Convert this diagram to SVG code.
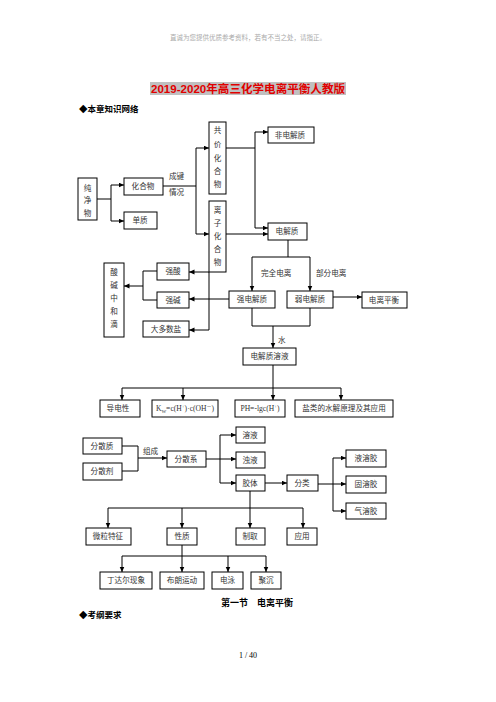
<svg xmlns="http://www.w3.org/2000/svg" width="496" height="702" viewBox="0 0 496 702">
<defs>
<marker id="ah" markerUnits="userSpaceOnUse" markerWidth="6" markerHeight="6" refX="5.5" refY="2.5" orient="auto"><path d="M0,0 L5.5,2.5 L0,5 z" fill="#000"/></marker>
<style>
.b{fill:#fff;stroke:#000;stroke-width:1}
.t{font-family:"Liberation Serif","Noto Sans CJK SC",serif;font-size:7.6px;fill:#333;text-anchor:middle}
.l{font-family:"Liberation Serif","Noto Sans CJK SC",serif;font-size:7.6px;fill:#333}
.c path{fill:none;stroke:#000;stroke-width:1}
.a{marker-end:url(#ah)}
.h{font-family:"Noto Sans CJK SC",sans-serif;font-weight:bold;fill:#000}
</style>
</defs>
<rect width="496" height="702" fill="#fff"/>
<text x="248" y="40" font-family="Liberation Serif,Noto Sans CJK SC,serif" font-size="6.5" fill="#aaa" text-anchor="middle">直诚为您提供优质参考资料，若有不当之处，请指正。</text>
<rect x="150" y="82" width="196" height="13" fill="#c0c0c0"/>
<text x="151" y="93" font-family="Liberation Sans,Noto Sans CJK SC,sans-serif" font-weight="bold" font-size="11.5" fill="#e00000" textLength="194" lengthAdjust="spacingAndGlyphs">2019-2020年高三化学电离平衡人教版</text>
<text class="h" x="79" y="112" font-size="8.5">◆本章知识网络</text>

<g id="connectors" class="c">
<path d="M97,199 H111 M111,185 V221"/>
<path class="a" d="M111,185 H124"/>
<path class="a" d="M111,221 H124"/>
<path d="M163,186 H196 M196,148 V234"/>
<path class="a" d="M196,148 H209"/>
<path class="a" d="M196,234 H209"/>
<path d="M226,148 H255 M255,132 V228"/>
<path class="a" d="M255,132 H268"/>
<path class="a" d="M255,228 H268"/>
<path class="a" d="M226,234 H268"/>
<path d="M288,240 V257 M252,257 H310"/>
<path class="a" d="M252,257 V291"/>
<path class="a" d="M310,257 V291"/>
<path class="a" d="M333,297 H362"/>
<path class="a" d="M229,299 H189"/>
<path d="M209,272 V330"/>
<path class="a" d="M209,272 H189"/>
<path class="a" d="M209,330 H189"/>
<path d="M157,271 H143 V300 H157"/>
<path class="a" d="M143,286 H124"/>
<path d="M252,308 V326 H310 V308"/>
<path class="a" d="M273,326 V348"/>
<path d="M273,365 V388 M122,388 H341"/>
<path class="a" d="M122,388 V400"/>
<path class="a" d="M183,388 V400"/>
<path class="a" d="M273,388 V400"/>
<path class="a" d="M341,388 V400"/>
<path d="M122,446 H138 V471 H122"/>
<path class="a" d="M138,458 H167"/>
<path class="a" d="M206,459 H236"/>
<path d="M220,435 V483"/>
<path class="a" d="M220,435 H236"/>
<path class="a" d="M220,483 H236"/>
<path class="a" d="M265,483 H287"/>
<path class="a" d="M318,484 H346"/>
<path d="M333,458 V511"/>
<path class="a" d="M333,458 H346"/>
<path class="a" d="M333,511 H346"/>
<path class="a" d="M250,491 V528"/>
<path d="M108,508 H303"/>
<path class="a" d="M108,508 V528"/>
<path class="a" d="M182,508 V528"/>
<path class="a" d="M303,508 V528"/>
<path d="M182,545 V556 M122,556 H266"/>
<path class="a" d="M122,556 V572"/>
<path class="a" d="M182,556 V572"/>
<path class="a" d="M228,556 V572"/>
<path class="a" d="M266,556 V572"/>
</g>
<g id="labels">
<text class="l" x="169" y="179">成键</text>
<text class="l" x="169" y="195">情况</text>
<text class="l" x="261" y="276">完全电离</text>
<text class="l" x="316" y="276">部分电离</text>
<text class="l" x="278" y="343">水</text>
<text class="l" x="143" y="454">组成</text>
</g>

<g id="n-chunjingwu"><rect class="b" x="78" y="178" width="19" height="42"/><text class="t" x="87.5" y="191">纯</text><text class="t" x="87.5" y="203">净</text><text class="t" x="87.5" y="216">物</text></g>
<g id="n-huahewu"><rect class="b" x="124" y="178" width="39" height="17"/><text class="t" x="143" y="189">化合物</text></g>
<g id="n-danzhi"><rect class="b" x="124" y="212" width="33" height="17"/><text class="t" x="140" y="223">单质</text></g>
<g id="n-gongjia"><rect class="b" x="209" y="122" width="17" height="72"/><text class="t" x="217.5" y="133">共</text><text class="t" x="217.5" y="147">价</text><text class="t" x="217.5" y="161">化</text><text class="t" x="217.5" y="174">合</text><text class="t" x="217.5" y="187">物</text></g>
<g id="n-lizi"><rect class="b" x="209" y="201" width="17" height="71"/><text class="t" x="217.5" y="213">离</text><text class="t" x="217.5" y="226">子</text><text class="t" x="217.5" y="239">化</text><text class="t" x="217.5" y="252">合</text><text class="t" x="217.5" y="265">物</text></g>
<g id="n-feidianjiezhi"><rect class="b" x="268" y="127" width="46" height="16"/><text class="t" x="290" y="138">非电解质</text></g>
<g id="n-dianjiezhi"><rect class="b" x="268" y="223" width="39" height="17"/><text class="t" x="287" y="234">电解质</text></g>
<g id="n-qiangdian"><rect class="b" x="229" y="291" width="46" height="17"/><text class="t" x="252" y="302">强电解质</text></g>
<g id="n-ruodian"><rect class="b" x="287" y="291" width="46" height="17"/><text class="t" x="310" y="302">弱电解质</text></g>
<g id="n-dianlipingheng"><rect class="b" x="362" y="292" width="45" height="16"/><text class="t" x="384" y="303">电离平衡</text></g>
<g id="n-qiangsuan"><rect class="b" x="157" y="263" width="32" height="17"/><text class="t" x="173" y="274">强酸</text></g>
<g id="n-qiangjian"><rect class="b" x="157" y="292" width="32" height="16"/><text class="t" x="173" y="303">强碱</text></g>
<g id="n-dayan"><rect class="b" x="143" y="321" width="46" height="16"/><text class="t" x="166" y="332">大多数盐</text></g>
<g id="n-zhonghe"><rect class="b" x="104" y="263" width="20" height="74"/><text class="t" x="114" y="275">酸</text><text class="t" x="114" y="288">碱</text><text class="t" x="114" y="301">中</text><text class="t" x="114" y="314">和</text><text class="t" x="114" y="327">滴</text></g>
<g id="n-rongye"><rect class="b" x="243" y="348" width="53" height="17"/><text class="t" x="269.5" y="359">电解质溶液</text></g>
<g id="n-daodian"><rect class="b" x="100" y="400" width="40" height="17"/><text class="t" x="118" y="411">导电性</text></g>
<g id="n-kw"><rect class="b" x="152" y="400" width="66" height="17"/><text class="t" x="185" y="411" font-size="7" fill="#000">K<tspan font-size="5" dy="1.5">W</tspan><tspan dy="-1.5">=c(H</tspan><tspan font-size="5" dy="-3">+</tspan><tspan dy="3">)·c(OH</tspan><tspan font-size="5" dy="-3">－</tspan><tspan dy="3">)</tspan></text></g>
<g id="n-ph"><rect class="b" x="235" y="400" width="50" height="17"/><text class="t" x="260" y="411" font-size="7" fill="#000">PH=-lgc(H<tspan font-size="5" dy="-3">+</tspan><tspan dy="3">)</tspan></text></g>
<g id="n-shuijie"><rect class="b" x="295" y="400" width="98" height="17"/><text class="t" x="344" y="411">盐类的水解原理及其应用</text></g>
<g id="n-fensanzhi"><rect class="b" x="83" y="438" width="39" height="16"/><text class="t" x="102" y="449">分散质</text></g>
<g id="n-fensanji"><rect class="b" x="83" y="463" width="39" height="17"/><text class="t" x="102" y="474">分散剂</text></g>
<g id="n-fensanxi"><rect class="b" x="167" y="451" width="39" height="16"/><text class="t" x="186" y="462">分散系</text></g>
<g id="n-rongye2"><rect class="b" x="236" y="427" width="29" height="16"/><text class="t" x="250" y="438">溶液</text></g>
<g id="n-zhuoye"><rect class="b" x="236" y="452" width="29" height="16"/><text class="t" x="250" y="463">浊液</text></g>
<g id="n-jiaoti"><rect class="b" x="236" y="475" width="29" height="16"/><text class="t" x="250" y="486">胶体</text></g>
<g id="n-fenlei"><rect class="b" x="287" y="475" width="31" height="16"/><text class="t" x="302" y="486">分类</text></g>
<g id="n-yerongjiao"><rect class="b" x="346" y="450" width="40" height="17"/><text class="t" x="366" y="461">液溶胶</text></g>
<g id="n-gurongjiao"><rect class="b" x="346" y="476" width="40" height="17"/><text class="t" x="366" y="487">固溶胶</text></g>
<g id="n-qirongjiao"><rect class="b" x="346" y="503" width="40" height="16"/><text class="t" x="366" y="514">气溶胶</text></g>
<g id="n-weili"><rect class="b" x="86" y="528" width="45" height="17"/><text class="t" x="108" y="539">微粒特征</text></g>
<g id="n-xingzhi"><rect class="b" x="167" y="528" width="30" height="17"/><text class="t" x="182" y="539">性质</text></g>
<g id="n-zhiqu"><rect class="b" x="236" y="528" width="29" height="17"/><text class="t" x="250" y="539">制取</text></g>
<g id="n-yingyong"><rect class="b" x="287" y="528" width="30" height="17"/><text class="t" x="302" y="539">应用</text></g>
<g id="n-dingdaer"><rect class="b" x="100" y="572" width="52" height="17"/><text class="t" x="126" y="583">丁达尔现象</text></g>
<g id="n-bulang"><rect class="b" x="160" y="572" width="44" height="17"/><text class="t" x="182" y="583">布朗运动</text></g>
<g id="n-dianyong"><rect class="b" x="212" y="572" width="31" height="17"/><text class="t" x="227.5" y="583">电泳</text></g>
<g id="n-juchen"><rect class="b" x="251" y="572" width="30" height="17"/><text class="t" x="266" y="583">聚沉</text></g>

<text class="h" x="257" y="606" font-size="9" text-anchor="middle">第一节　电离平衡</text>
<text class="h" x="79" y="618" font-size="8.5">◆考纲要求</text>
<text x="248" y="658" font-family="Liberation Serif,serif" font-size="8" fill="#000" text-anchor="middle">1 / 40</text>
</svg>
